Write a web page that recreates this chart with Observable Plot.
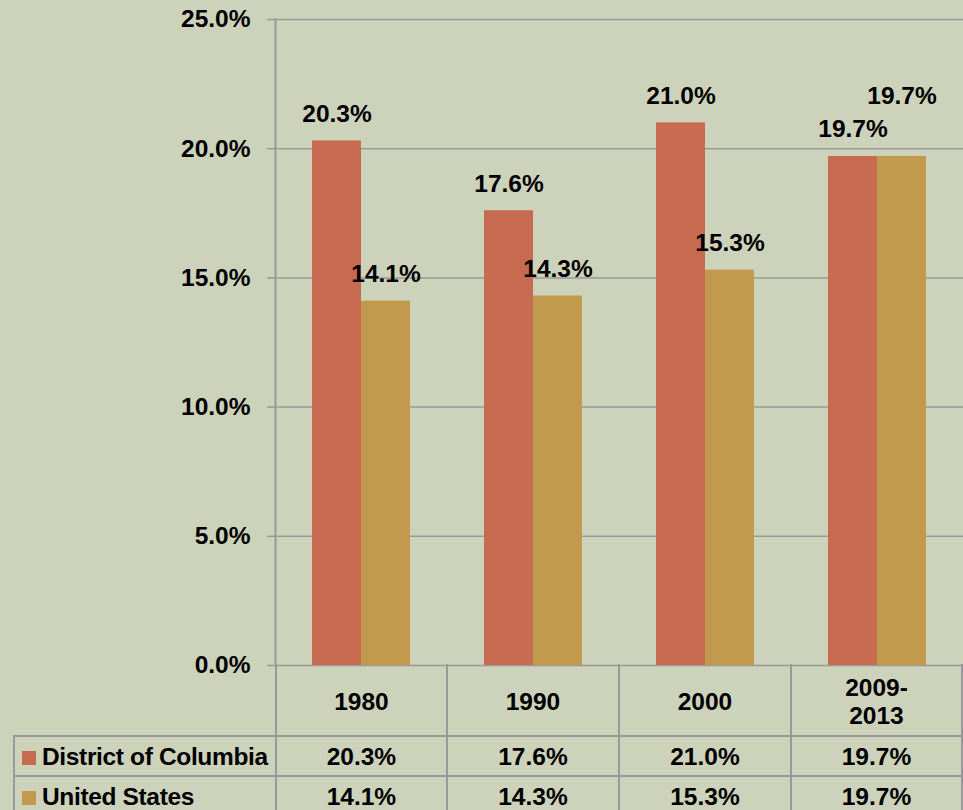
<!DOCTYPE html>
<html>
<head>
<meta charset="utf-8">
<script src="https://cdn.jsdelivr.net/npm/d3@7"></script>
<script src="https://cdn.jsdelivr.net/npm/@observablehq/plot@0.6"></script>
<style>
  html, body { margin: 0; padding: 0; background: #cdd2ba; }
  #wrap { position: relative; width: 963px; height: 810px; overflow: hidden; background: #cdd2ba; font-family: "Liberation Sans", Arial, sans-serif; }
  #wrap svg { display: block; }
  #tbl { position: absolute; left: 13px; top: 664px; border-collapse: collapse; table-layout: fixed; }
  #tbl td { border: 2px solid #999; text-align: center; font-weight: bold; font-size: 24.5px; padding: 0; color: #000; white-space: pre-line; line-height: 28px; }
  #tbl tr.head td { border-top: none; height: 67px; padding-top: 4px; }
  #tbl tr.head td.blank { border-left: none; }
  #tbl tr.row td { height: 37px; padding-top: 1px; }
  #tbl td.name { text-align: left; padding-left: 7px; white-space: nowrap; overflow: visible; letter-spacing: -0.35px; }
  .sw { display: inline-block; width: 14px; height: 14px; margin-right: 6px; vertical-align: 0px; }
</style>
</head>
<body>
<div id="wrap"></div>
<script>
const categories = ["1980", "1990", "2000", "2009-\n2013"];
const seriesNames = ["District of Columbia", "United States"];
const dcValues = [20.3, 17.6, 21.0, 19.7];
const usValues = [14.1, 14.3, 15.3, 19.7];
const yTicks = [0, 5, 10, 15, 20, 25];
const seriesColors = ["#c66a50", "#c29a4e"];

const fmt = d => d.toFixed(1) + "%";
const dc = categories.map((c, i) => ({cat: c, series: seriesNames[0], value: dcValues[i], other: usValues[i]}));
const us = categories.map((c, i) => ({cat: c, series: seriesNames[1], value: usValues[i], other: dcValues[i]}));

const labelStyle = {fontSize: 24.5, fontWeight: "bold", fill: "#000", fontFamily: "Liberation Sans, Arial, sans-serif"};

const chart = Plot.plot({
  width: 963,
  height: 666,
  marginTop: 19,
  marginBottom: 1,
  marginLeft: 275,
  marginRight: 0,
  style: {background: "transparent", fontFamily: "Liberation Sans, Arial, sans-serif", overflow: "visible"},
  x: {domain: categories, padding: 0, axis: null},
  y: {domain: [0, 25], axis: null},
  marks: [
    Plot.gridY(yTicks, {stroke: "#999", strokeOpacity: 1, strokeWidth: 1.5}),
    Plot.axisY({ticks: yTicks, tickSize: 8, tickPadding: 17, tickFormat: fmt, label: null,
      stroke: "#999", strokeOpacity: 1, strokeWidth: 1.5, fill: "#000", fontSize: 24.5, fontWeight: "bold"}),
    Plot.frame({anchor: "left", stroke: "#999", strokeWidth: 2}),
    Plot.barY(dc, {x: "cat", y: "value", fill: seriesColors[0], insetLeft: 37, insetRight: 86}),
    Plot.barY(us, {x: "cat", y: "value", fill: seriesColors[1], insetLeft: 86, insetRight: 37}),
    Plot.text(dc, {x: "cat", y: "value", text: d => fmt(d.value), dx: -24.5, dy: -27, ...labelStyle}),
    Plot.text(us.filter(d => d.value !== d.other), {x: "cat", y: "value", text: d => fmt(d.value), dx: 24.5, dy: -27, ...labelStyle}),
    Plot.text(us.filter(d => d.value === d.other), {x: "cat", y: "value", text: d => fmt(d.value), dx: 24.5, dy: -60, ...labelStyle})
  ]
});

const wrap = document.getElementById("wrap");
wrap.appendChild(chart);

// data table below the chart
const table = document.createElement("table");
table.id = "tbl";
const colgroup = document.createElement("colgroup");
[262, 172, 173, 173, 172].forEach(w => {
  const col = document.createElement("col");
  col.style.width = w + "px";
  colgroup.appendChild(col);
});
table.appendChild(colgroup);

const head = document.createElement("tr");
head.className = "head";
const blank = document.createElement("td");
blank.className = "blank";
head.appendChild(blank);
categories.forEach(c => {
  const td = document.createElement("td");
  td.textContent = c;
  head.appendChild(td);
});
table.appendChild(head);

[[seriesNames[0], dcValues, seriesColors[0]], [seriesNames[1], usValues, seriesColors[1]]].forEach(([name, vals, color]) => {
  const tr = document.createElement("tr");
  tr.className = "row";
  const nameTd = document.createElement("td");
  nameTd.className = "name";
  const sw = document.createElement("span");
  sw.className = "sw";
  sw.style.background = color;
  nameTd.appendChild(sw);
  nameTd.appendChild(document.createTextNode(name));
  tr.appendChild(nameTd);
  vals.forEach(v => {
    const td = document.createElement("td");
    td.textContent = fmt(v);
    tr.appendChild(td);
  });
  table.appendChild(tr);
});
wrap.appendChild(table);
</script>
</body>
</html>
